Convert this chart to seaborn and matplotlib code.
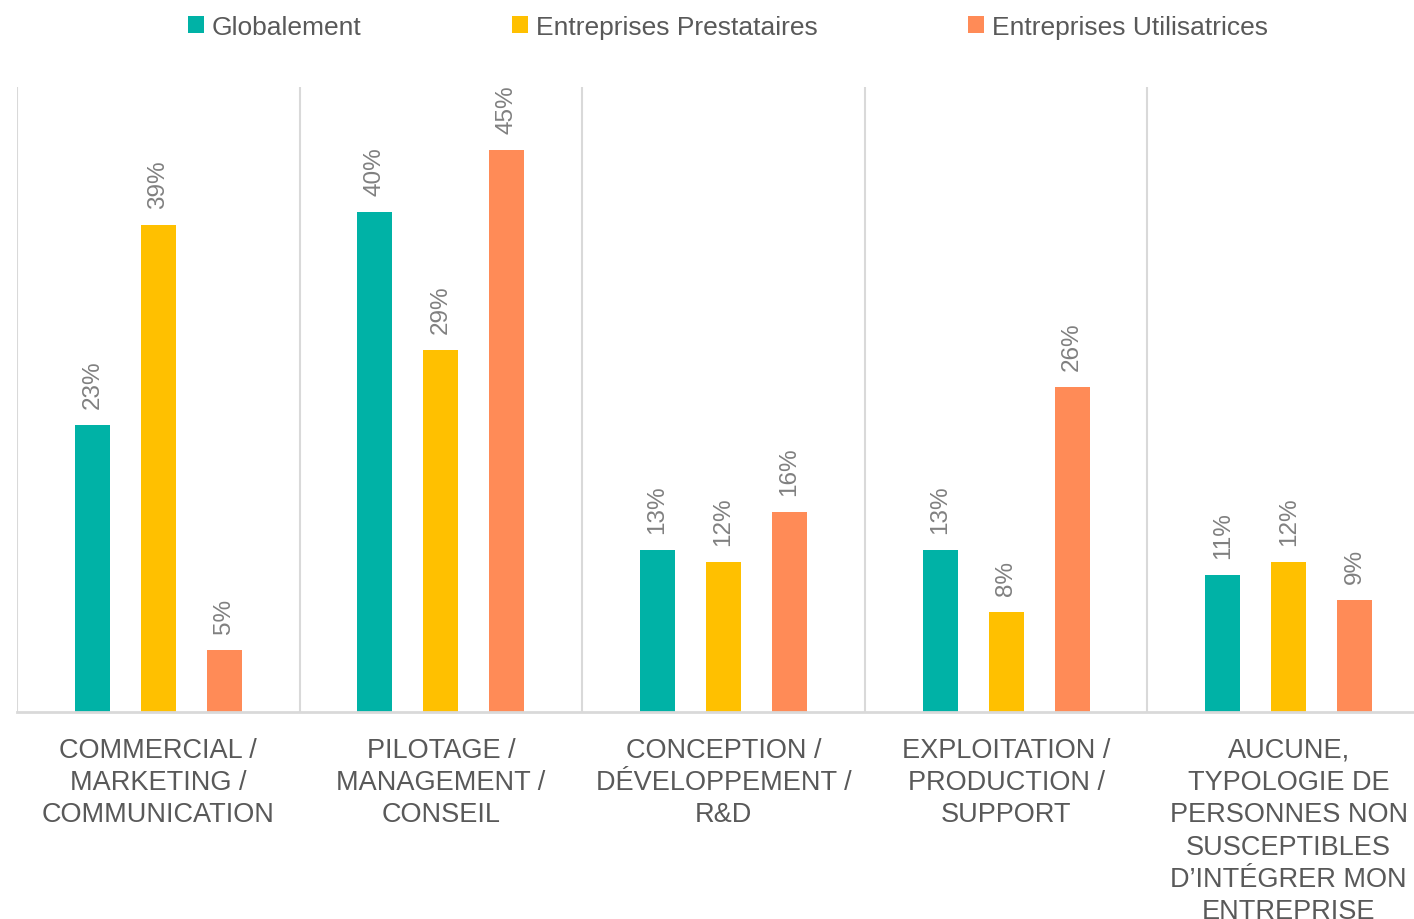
import numpy as np
import pandas as pd
import matplotlib
matplotlib.use("Agg")
import matplotlib.pyplot as plt
import seaborn as sns

categories = [
    "COMMERCIAL /\nMARKETING /\nCOMMUNICATION",
    "PILOTAGE /\nMANAGEMENT /\nCONSEIL",
    "CONCEPTION /\nDÉVELOPPEMENT /\nR&D",
    "EXPLOITATION /\nPRODUCTION /\nSUPPORT",
    "AUCUNE,\nTYPOLOGIE DE\nPERSONNES NON\nSUSCEPTIBLES\nD’INTÉGRER MON\nENTREPRISE",
]
series = ["Globalement", "Entreprises Prestataires", "Entreprises Utilisatrices"]
globalement = [23, 40, 13, 13, 11]
prestataires = [39, 29, 12, 8, 12]
utilisatrices = [5, 45, 16, 26, 9]
colors = ["#00B2A6", "#FFC000", "#FF8B57"]

rows = []
for s, vals in zip(series, [globalement, prestataires, utilisatrices]):
    for c, v in zip(categories, vals):
        rows.append({"cat": c, "serie": s, "val": v})
df = pd.DataFrame(rows)

sns.set_theme(style="white")
regular = ["Liberation Sans", "DejaVu Sans"]
plt.rcParams["font.family"] = regular

fig = plt.figure(figsize=(14.14, 9.2), dpi=100)
ax = fig.add_axes([17 / 1414, 207 / 920, 1413 / 1414, 625 / 920])

sns.barplot(data=df, x="cat", y="val", hue="serie", hue_order=series,
            order=categories, palette=colors, width=0.7, gap=0.47,
            saturation=1, ax=ax, legend=True, linewidth=0)

ax.set_ylim(0, 50)
ax.set_xlim(-0.5, len(categories) - 0.5)
ax.set_xlabel("")
ax.set_ylabel("")
ax.set_yticks([])
for side in ["top", "right", "left"]:
    ax.spines[side].set_visible(False)
ax.spines["bottom"].set_color("#D9D9D9")
ax.spines["bottom"].set_linewidth(2)

ax.set_xticks(np.arange(-0.5, len(categories)), minor=True)
ax.grid(axis="x", which="minor", color="#D9D9D9", linewidth=1.5)
ax.grid(axis="x", which="major", visible=False)
ax.tick_params(axis="x", which="both", length=0)
ax.tick_params(axis="x", which="major", pad=18)
for lbl in ax.get_xticklabels(which="major"):
    lbl.set_fontsize(19.5)
    lbl.set_color("#595959")
    lbl.set_linespacing(1.31)
    lbl.set_ha("center")

for cont, vals in zip(ax.containers, [globalement, prestataires, utilisatrices]):
    ax.bar_label(cont, labels=[f"{v}%" for v in vals], rotation=90,
                 padding=12, fontsize=17.5, color="#808080")

handles, labels = ax.get_legend_handles_labels()
ax.get_legend().remove()
fig.legend(handles, labels, loc="center", bbox_to_anchor=(728 / 1414, 1 - 28 / 920),
           ncol=3, frameon=False, fontsize=19, labelcolor="#595959",
           handlelength=0.6, handleheight=0.6, handletextpad=0.3,
           columnspacing=5.7)

fig.savefig("out.png", dpi=100, facecolor="white")
